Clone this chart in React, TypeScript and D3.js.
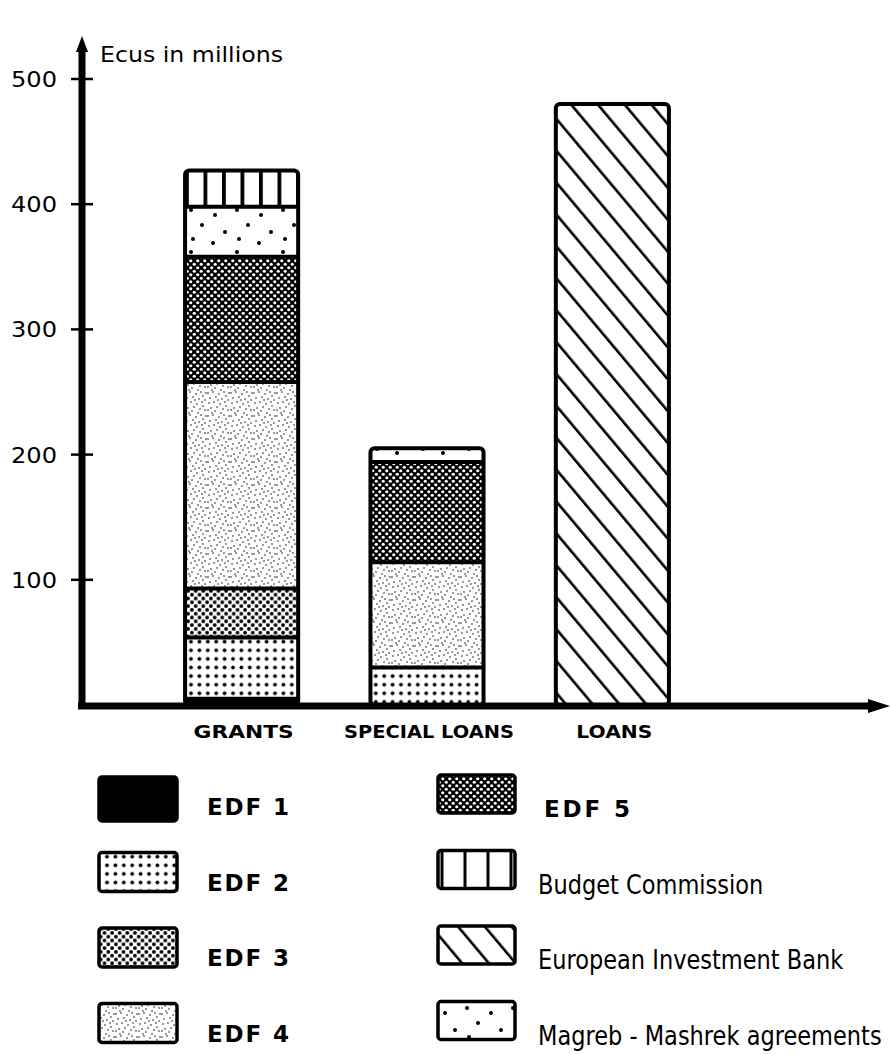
import React from "react";
import * as d3 from "d3";

// ---- Data (Ecus in millions) ----
const categories = ["GRANTS", "SPECIAL LOANS", "LOANS"];
const edf1 = [5, 0, 0];
const edf2 = [49, 30, 0];
const edf3 = [39, 0, 0];
const edf4 = [165, 84, 0];
const edf5 = [100, 80, 0];
const eib = [0, 0, 480];
const magreb = [40, 11, 0];
const budget = [29, 0, 0];
const yTicks = [100, 200, 300, 400, 500];
const yLabel = "Ecus in millions";

const seriesKeys = ["edf1", "edf2", "edf3", "edf4", "edf5", "eib", "magreb", "budget"];
const seriesLabels: Record<string, string> = {
  edf1: "EDF 1",
  edf2: "EDF 2",
  edf3: "EDF 3",
  edf4: "EDF 4",
  edf5: "EDF 5",
  budget: "Budget Commission",
  eib: "European Investment Bank",
  magreb: "Magreb - Mashrek agreements",
};
const legendLeft = ["edf1", "edf2", "edf3", "edf4"];
const legendRight = ["edf5", "budget", "eib", "magreb"];

const W = 890;
const H = 1055;
const INK = "#000";

const stippleDots: [number, number][] = [
  [1, 2], [6, 1], [12, 3], [17, 1], [3, 7], [9, 6], [15, 8], [19, 5],
  [2, 12], [7, 11], [13, 13], [18, 11], [4, 17], [10, 16], [16, 18], [1, 19],
  [8, 20], [14, 22], [19, 15], [5, 22], [11, 9], [21, 19], [22, 2], [21, 9],
];
const magrebDots: [number, number][] = [
  [6, 5], [30, 10], [17, 20], [40, 27], [8, 34], [28, 38],
];

function Patterns() {
  return (
    <defs>
      <pattern id="pat-edf1" patternUnits="userSpaceOnUse" width={4} height={4}>
        <rect width={4} height={4} fill={INK} />
      </pattern>
      <pattern id="pat-edf2" patternUnits="userSpaceOnUse" width={8.4} height={8.6} x={2} y={1}>
        <rect width={8.4} height={8.6} fill="#fff" />
        <circle cx={4.2} cy={4.3} r={1.9} fill={INK} />
      </pattern>
      <pattern id="pat-edf3" patternUnits="userSpaceOnUse" width={7.6} height={7.6}>
        <rect width={7.6} height={7.6} fill="#fff" />
        <circle cx={1.9} cy={1.9} r={1.9} fill={INK} />
        <circle cx={5.7} cy={5.7} r={1.9} fill={INK} />
      </pattern>
      <pattern id="pat-edf4" patternUnits="userSpaceOnUse" width={23} height={23}>
        <rect width={23} height={23} fill="#fff" />
        {stippleDots.map(([x, y], i) => (
          <circle key={i} cx={x} cy={y} r={0.75} fill={INK} />
        ))}
      </pattern>
      <pattern id="pat-edf5" patternUnits="userSpaceOnUse" width={7} height={7}>
        <rect width={7} height={7} fill={INK} />
        <circle cx={1.75} cy={1.75} r={1.6} fill="#fff" />
        <circle cx={5.25} cy={5.25} r={1.6} fill="#fff" />
      </pattern>
      <pattern id="pat-budget" patternUnits="userSpaceOnUse" width={18.5} height={10} x={185}>
        <rect width={18.5} height={10} fill="#fff" />
        <rect x={0} width={3.8} height={10} fill={INK} />
      </pattern>
      <pattern
        id="pat-eib"
        patternUnits="userSpaceOnUse"
        width={20.5}
        height={20.5}
        patternTransform="rotate(-40)"
      >
        <rect width={20.5} height={20.5} fill="#fff" />
        <rect x={0} width={2.6} height={20.5} fill={INK} />
      </pattern>
      <pattern id="pat-magreb" patternUnits="userSpaceOnUse" width={46} height={42} x={185} y={205}>
        <rect width={46} height={42} fill="#fff" />
        {magrebDots.map(([x, y], i) => (
          <circle key={i} cx={x} cy={y} r={2} fill={INK} />
        ))}
      </pattern>
    </defs>
  );
}

export default function App() {
  const x = d3
    .scaleBand<string>()
    .domain(categories)
    .range([148, 706])
    .paddingInner(0.39)
    .paddingOuter(0.2);
  const y = d3.scaleLinear().domain([0, 500]).range([705, 79]);

  const rows = categories.map((c, i) => ({
    cat: c,
    edf1: edf1[i],
    edf2: edf2[i],
    edf3: edf3[i],
    edf4: edf4[i],
    edf5: edf5[i],
    eib: eib[i],
    magreb: magreb[i],
    budget: budget[i],
  }));
  const stacked = d3.stack<any>().keys(seriesKeys)(rows);
  const totals = rows.map((r) => d3.sum(seriesKeys, (k) => (r as any)[k] as number));

  const bw = x.bandwidth();
  const axisX = 82;
  const axisY = y(0) + 1;

  const legendRowY = (i: number) => 777 + i * 75.5;
  const catLen: Record<string, number> = { GRANTS: 100, "SPECIAL LOANS": 170, LOANS: 76 };

  return (
    <svg
      width={W}
      height={H}
      viewBox={`0 0 ${W} ${H}`}
      style={{ position: "absolute", left: 0, top: 0, display: "block", background: "#fff" }}
    >
      <Patterns />
      <rect width={W} height={H} fill="#fff" />

      {/* bar segments */}
      {stacked.map((s) =>
        s.map((d, i) => {
          const v = d[1] - d[0];
          if (!v) return null;
          return (
            <rect
              key={s.key + i}
              x={x(categories[i])}
              y={y(d[1])}
              width={bw}
              height={y(d[0]) - y(d[1])}
              fill={`url(#pat-${s.key})`}
            />
          );
        })
      )}
      {/* segment separators */}
      {stacked.map((s) =>
        s.map((d, i) => {
          const v = d[1] - d[0];
          if (!v || d[1] >= totals[i]) return null;
          return (
            <line
              key={"sep" + s.key + i}
              x1={x(categories[i])}
              x2={(x(categories[i]) as number) + bw}
              y1={y(d[1])}
              y2={y(d[1])}
              stroke={INK}
              strokeWidth={4}
            />
          );
        })
      )}
      {/* bar outlines */}
      {categories.map((c, i) => (
        <rect
          key={"out" + c}
          x={x(c)}
          y={y(totals[i])}
          width={bw}
          height={y(0) - y(totals[i])}
          fill="none"
          stroke={INK}
          strokeWidth={4}
          rx={4}
        />
      ))}

      {/* y axis */}
      <line x1={axisX} x2={axisX} y1={axisY + 3} y2={48} stroke={INK} strokeWidth={7} />
      <path d={`M${axisX - 6},52 L${axisX},36 L${axisX + 6},52 Z`} fill={INK} />
      {yTicks.map((t) => (
        <g key={t}>
          <line x1={axisX - 11} x2={axisX + 11} y1={y(t)} y2={y(t)} stroke={INK} strokeWidth={2.5} />
          <text
            x={57}
            y={y(t) + 8}
            textAnchor="end"
            fontFamily="DejaVu Sans, sans-serif"
            fontSize={22}
            textLength={46}
            lengthAdjust="spacingAndGlyphs"
            fill={INK}
          >
            {t}
          </text>
        </g>
      ))}
      <text
        x={100}
        y={62}
        fontFamily="DejaVu Sans, sans-serif"
        fontSize={22}
        textLength={183}
        lengthAdjust="spacingAndGlyphs"
        fill={INK}
      >
        {yLabel}
      </text>

      {/* x axis */}
      <line x1={axisX - 4} x2={872} y1={axisY} y2={axisY} stroke={INK} strokeWidth={7} />
      <path d={`M868,${axisY - 7} L890,${axisY} L868,${axisY + 7} Z`} fill={INK} />
      {categories.map((c) => (
        <text
          key={"cl" + c}
          x={(x(c) as number) + bw / 2 + 2}
          y={738}
          textAnchor="middle"
          fontFamily="DejaVu Sans, sans-serif"
          fontWeight={600}
          fontSize={18}
          textLength={catLen[c]}
          lengthAdjust="spacingAndGlyphs"
          fill={INK}
        >
          {c}
        </text>
      ))}

      {/* legend */}
      {legendLeft.map((k, i) => (
        <g key={"ll" + k}>
          <rect
            x={99}
            y={legendRowY(i)}
            width={78}
            height={i === 0 ? 44 : 39}
            fill={`url(#pat-${k})`}
            stroke={INK}
            strokeWidth={3.5}
            rx={3}
          />
          <text
            x={207}
            y={legendRowY(i) + 38}
            fontFamily="DejaVu Sans, sans-serif"
            fontWeight={600}
            fontSize={23}
            textLength={82}
            fill={INK}
          >
            {seriesLabels[k]}
          </text>
        </g>
      ))}
      {legendRight.map((k, i) => {
        const isEdf = k === "edf5";
        return (
          <g key={"lr" + k}>
            <rect
              x={438}
              y={legendRowY(i) - 2}
              width={77}
              height={38}
              fill={k === "budget" ? "#fff" : `url(#pat-${k})`}
              stroke={INK}
              strokeWidth={3.5}
              rx={3}
            />
            {k === "budget" &&
              [0, 1, 2, 3].map((j) => (
                <line
                  key={j}
                  x1={438 + 4 + j * 23}
                  x2={438 + 4 + j * 23}
                  y1={legendRowY(i) - 2}
                  y2={legendRowY(i) + 36}
                  stroke={INK}
                  strokeWidth={3}
                />
              ))}
            {isEdf ? (
              <text
                x={544}
                y={legendRowY(i) + 40}
                fontFamily="DejaVu Sans, sans-serif"
                fontWeight={600}
                fontSize={23}
                textLength={86}
                fill={INK}
              >
                {seriesLabels[k]}
              </text>
            ) : (
              <g transform={`translate(538, ${legendRowY(i) + 41}) scale(1, 1.18)`}>
                <text
                  x={0}
                  y={0}
                  fontFamily="DejaVu Sans, sans-serif"
                  fontSize={22.5}
                  fill={INK}
                >
                  {seriesLabels[k]}
                </text>
              </g>
            )}
          </g>
        );
      })}
    </svg>
  );
}
